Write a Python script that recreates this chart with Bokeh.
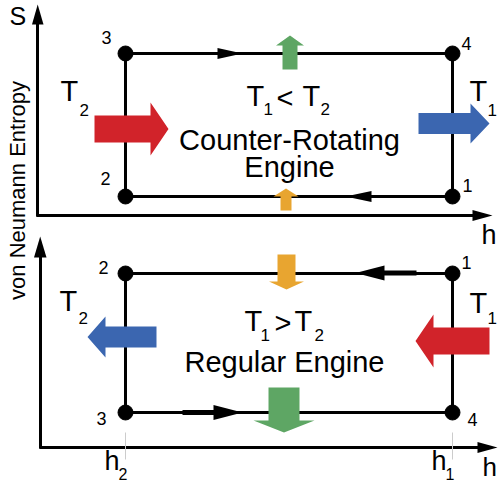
import math
from bokeh.plotting import figure
from bokeh.models import Range1d
from bokeh.core.properties import value
from bokeh.embed import file_html
from bokeh.resources import INLINE

FONT = "Liberation Sans"

# ---- schematic data (canvas units of the S-h diagram) ----
h_levels = [125, 452]                 # h2, h1
h_names = ["2", "1"]                  # subscripts of h2, h1

# counter-rotating engine (upper panel): states 1..4
top_state = ["1", "2", "3", "4"]
top_h = [452, 125, 125, 452]
top_S = [196, 196, 53, 53]

# regular engine (lower panel): states 1..4
bot_state = ["1", "2", "3", "4"]
bot_h = [452, 125, 125, 452]
bot_S = [273, 273, 412, 412]

# state label offsets (dx, dy)
top_lab_dx = [15, -20, -19, 14]
top_lab_dy = [-11, -18, -16, -10]
bot_lab_dx = [14, -22, -24, 20]
bot_lab_dy = [-11, -6, 6, 7]

COL_RED = "#d1232a"
COL_BLUE = "#3b66b0"
COL_GREEN = "#5ea664"
COL_ORANGE = "#e8a530"

p = figure(width=498, height=484, x_range=Range1d(0, 498), y_range=Range1d(484, 0),
           output_backend="svg", toolbar_location=None, min_border=0,
           x_axis_location=None, y_axis_location=None)
p.grid.visible = False
p.outline_line_color = None
p.background_fill_color = "white"
p.border_fill_color = "white"

# ---- axes ----
p.segment(x0=[37, 36, 40, 39], y0=[216, 215, 448, 447],
          x1=[37, 476, 40, 480], y1=[20, 215, 252, 447],
          line_color="black", line_width=3)
p.patches(xs=[[31.5, 43, 37.2], [472, 472, 492], [33.5, 46, 39.7], [477, 477, 497]],
          ys=[[24, 24, 4], [209.5, 220.5, 215], [257, 257, 236], [441.5, 452.5, 447]],
          fill_color="black", line_color=None)

# ---- cycles ----
for hs, Ss in ((top_h, top_S), (bot_h, bot_S)):
    xs = [hs[0], hs[1], hs[2], hs[3], hs[0]]
    ys = [Ss[0], Ss[1], Ss[2], Ss[3], Ss[0]]
    p.line(xs, ys, line_color="black", line_width=3)

# direction arrowheads on isentropes
p.patches(xs=[[217, 217, 242], [371, 371, 345], [384, 384, 355], [213, 213, 242]],
          ys=[[47.5, 58.5, 53], [190.5, 201.5, 196], [265, 280, 272.5], [404.5, 419.5, 412]],
          fill_color="black", line_color=None)
p.segment(x0=[383, 182], y0=[272.5, 412], x1=[416, 214], y1=[272.5, 412],
          line_color="black", line_width=5)

# ---- block arrows (heat / work flows) ----
def block(x0, x1, xh, yc, bw, hw):
    """horizontal block arrow: body from x0 to x1, head tip at xh"""
    return ([x0, x1, x1, xh, x1, x1, x0],
            [yc - bw, yc - bw, yc - hw, yc, yc + hw, yc + bw, yc + bw])

def vblock(xc, y0, y1, yh, bw, hw):
    return ([xc - bw, xc - bw, xc - hw, xc, xc + hw, xc + bw, xc + bw],
            [y0, y1, y1, yh, y1, y1, y0])

arrows = [
    (block(94, 150, 168, 128.5, 13.5, 26.5), COL_RED),
    (block(418, 470, 489, 123, 10.5, 20), COL_BLUE),
    (block(156, 105, 87, 336.5, 10.5, 20.5), COL_BLUE),
    (block(489, 433, 415, 340.5, 13.5, 26.5), COL_RED),
    (vblock(289.5, 69, 45, 35, 7.5, 14), COL_GREEN),
    (vblock(285.5, 210, 196, 188, 5.5, 12.5), COL_ORANGE),
    (vblock(286, 254, 281, 289, 9, 17.5), COL_ORANGE),
    (vblock(283.5, 387, 420, 432, 15.5, 30.5), COL_GREEN),
]
for (xs, ys), c in arrows:
    p.patch(xs, ys, fill_color=c, line_color=None)

# ---- state points ----
p.scatter(top_h, top_S, size=15, color="black")
p.scatter(bot_h, bot_S, size=15, color="black")

p.text(x=[h + dx for h, dx in zip(top_h, top_lab_dx)],
       y=[s + dy for s, dy in zip(top_S, top_lab_dy)],
       text=top_state, text_font=value(FONT), text_font_size="18px",
       text_align="center", text_baseline="middle", text_color="black")
p.text(x=[h + dx for h, dx in zip(bot_h, bot_lab_dx)],
       y=[s + dy for s, dy in zip(bot_S, bot_lab_dy)],
       text=bot_state, text_font=value(FONT), text_font_size="18px",
       text_align="center", text_baseline="middle", text_color="black")

# ---- texts (y = visual middle of the glyphs) ----
def txt(x, y, s, size, align="left", angle=0.0):
    p.text(x=[x], y=[y], text=[s], text_font=value(FONT), text_font_size=size,
           text_align=align, text_baseline="middle", text_color="black", angle=angle)

BIG = "29px"
SUB = "17px"

# axis labels
txt(9, 15, "S", "25px")
txt(481, 234, "h", "27px")
txt(482, 466, "h", "26px")
txt(17, 190, "von Neumann Entropy", "22px", align="center", angle=math.pi / 2)

# reservoir temperatures
txt(60, 90, "T", BIG); txt(79, 109, "2", SUB)
txt(469, 90, "T", BIG); txt(487, 109, "1", SUB)
txt(59, 300, "T", BIG); txt(78, 317, "2", SUB)
txt(469, 302, "T", BIG); txt(487, 317, "1", SUB)

# centre captions
txt(246, 95, "T", BIG); txt(263, 108.5, "1", SUB); txt(276, 97, "<", BIG)
txt(302, 95, "T", BIG); txt(320, 108.5, "2", SUB)
txt(289, 139, "Counter-Rotating", BIG, align="center")
txt(289, 166, "Engine", BIG, align="center")

txt(244, 320, "T", BIG); txt(260, 334.5, "1", SUB); txt(274, 322, ">", BIG)
txt(294, 320, "T", BIG); txt(314, 334.5, "2", SUB)
txt(284, 361, "Regular Engine", BIG, align="center")

# h ticks and labels
p.segment(x0=h_levels, y0=[432, 432], x1=h_levels, y1=[459, 459],
          line_color="#cccccc", line_width=1)
for hx, nm in zip(h_levels, h_names):
    txt(hx - 21, 460, "h", "27px")
    txt(hx - 7, 473, nm, "16px")

html = file_html(p, INLINE)
html = html.replace("<head>", "<head><style>html,body{margin:0;padding:0;overflow:hidden;}</style>", 1)
open("out.html", "w").write(html)
